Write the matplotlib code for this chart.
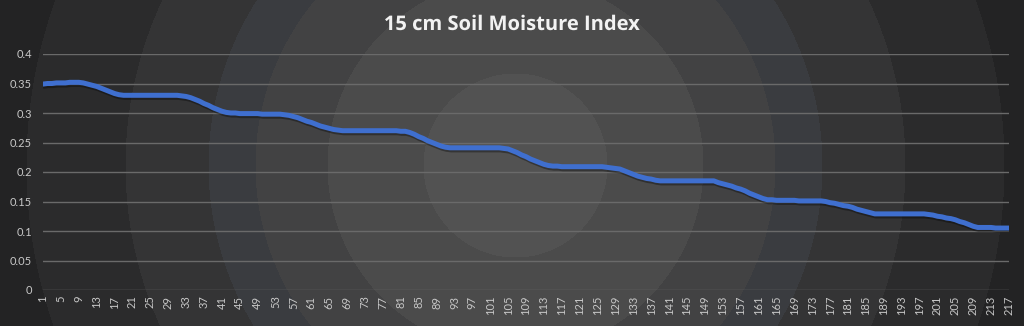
"""
15 cm soil moisture index line chart (dark radial background)
"""

import matplotlib
matplotlib.use('Agg')
import matplotlib.pyplot as plt
import matplotlib.patheffects as pe
import numpy as np

title = '15 cm Soil Moisture Index'

# day index 1..217
days = list(range(1, 218))

moisture = [
    # 1-18
    0.349, 0.350, 0.350, 0.351, 0.351, 0.351, 0.352, 0.352, 0.352,
    0.351, 0.349, 0.347, 0.345, 0.342, 0.339, 0.336, 0.333, 0.331,
    # 19-32
    0.330, 0.330, 0.330, 0.330, 0.330, 0.330, 0.330,
    0.330, 0.330, 0.330, 0.330, 0.330, 0.330, 0.329,
    # 33-44
    0.328, 0.326, 0.323, 0.320, 0.316, 0.313,
    0.309, 0.306, 0.303, 0.301, 0.300, 0.300,
    # 45-56
    0.299, 0.299, 0.299, 0.299, 0.299, 0.298,
    0.298, 0.298, 0.298, 0.298, 0.297, 0.296,
    # 57-68
    0.294, 0.292, 0.289, 0.286, 0.284, 0.281,
    0.278, 0.276, 0.274, 0.272, 0.271, 0.270,
    # 69-82
    0.270, 0.270, 0.270, 0.270, 0.270, 0.270, 0.270,
    0.270, 0.270, 0.270, 0.270, 0.270, 0.269, 0.269,
    # 83-92
    0.267, 0.264, 0.260, 0.257, 0.253, 0.250, 0.247, 0.244, 0.242, 0.241,
    # 93-104
    0.241, 0.241, 0.241, 0.241, 0.241, 0.241,
    0.241, 0.241, 0.241, 0.241, 0.241, 0.240,
    # 105-116
    0.239, 0.236, 0.233, 0.229, 0.226, 0.222,
    0.219, 0.216, 0.213, 0.211, 0.210, 0.210,
    # 117-130
    0.209, 0.209, 0.209, 0.209, 0.209, 0.209, 0.209,
    0.209, 0.209, 0.209, 0.208, 0.207, 0.206, 0.205,
    # 131-140
    0.202, 0.199, 0.196, 0.193, 0.191, 0.189, 0.188, 0.186, 0.185, 0.185,
    # 141-151
    0.185, 0.185, 0.185, 0.185, 0.185, 0.185,
    0.185, 0.185, 0.185, 0.185, 0.185,
    # 152-163
    0.182, 0.180, 0.178, 0.176, 0.173, 0.171,
    0.168, 0.164, 0.161, 0.158, 0.155, 0.153,
    # 164-175
    0.153, 0.152, 0.152, 0.152, 0.152, 0.152,
    0.151, 0.151, 0.151, 0.151, 0.151, 0.151,
    # 176-187
    0.150, 0.148, 0.147, 0.145, 0.143, 0.142,
    0.140, 0.137, 0.135, 0.133, 0.131, 0.129,
    # 188-198
    0.129, 0.129, 0.129, 0.129, 0.129, 0.129,
    0.129, 0.129, 0.129, 0.129, 0.129,
    # 199-210
    0.128, 0.127, 0.125, 0.124, 0.122, 0.121,
    0.119, 0.116, 0.114, 0.111, 0.108, 0.106,
    # 211-217
    0.106, 0.106, 0.106, 0.105, 0.105, 0.105, 0.105,
]
assert len(moisture) == len(days)

x_ticks = list(range(1, 218, 4))
y_ticks = [0, 0.05, 0.1, 0.15, 0.2, 0.25, 0.3, 0.35, 0.4]
y_labels = ['0', '0.05', '0.1', '0.15', '0.2', '0.25', '0.3', '0.35', '0.4']

plt.rcParams['font.family'] = ['Lato', 'DejaVu Sans']

W, H = 1024, 326
fig = plt.figure(figsize=(W / 100, H / 100), dpi=100)

# radial banded background, like the Excel chart style
bg = fig.add_axes([0, 0, 1, 1])
yy, xx = np.mgrid[0:H, 0:W]
r = np.hypot(xx - 515, yy - 165)
edges = [92, 188, 260, 307, 390, 489, 2000]
shades = [(0.325, 0.325, 0.325), (0.295, 0.295, 0.295), (0.262, 0.262, 0.265),
          (0.230, 0.236, 0.252), (0.205, 0.205, 0.208), (0.172, 0.172, 0.174),
          (0.140, 0.140, 0.142)]
img = np.zeros((H, W, 3))
img[:] = shades[-1]
for e, c in zip(edges[::-1], shades[::-1]):
    img[r < e] = c
bg.imshow(img, aspect='auto', extent=(0, W, H, 0), interpolation='bilinear')
bg.axis('off')

ax = fig.add_axes([43 / W, 1 - 290 / H, (1009 - 43) / W, (290 - 54) / H])
ax.set_facecolor('none')
ax.plot(days, moisture, color='#3f6fcf', lw=3.6, solid_capstyle='round',
        solid_joinstyle='round',
        path_effects=[pe.SimpleLineShadow(offset=(0.8, -1.5), shadow_color='black', alpha=0.35),
                      pe.Normal()])

ax.set_xlim(1, 217)
ax.set_ylim(0, 0.4)
ax.set_yticks(y_ticks)
ax.set_yticklabels(y_labels)
ax.set_xticks(x_ticks)
ax.set_xticklabels([str(t) for t in x_ticks], rotation=90, va='top')
ax.grid(axis='y', color='#6a6a6a', lw=1.0)
ax.set_axisbelow(True)
for s in ax.spines.values():
    s.set_visible(False)
ax.tick_params(axis='both', length=0, colors='#c8c8c8', labelsize=8)
ax.tick_params(axis='y', pad=8)
ax.tick_params(axis='x', pad=4)

fig.text(0.5, 1 - 25 / H, title, ha='center', va='center', color='#f2f2f2',
         fontsize=14.5, fontweight='bold', family=['Open Sans', 'DejaVu Sans'],
         path_effects=[pe.SimpleLineShadow(offset=(1, -1.5), alpha=0.5), pe.Normal()])

plt.savefig('out.png', dpi=100)
